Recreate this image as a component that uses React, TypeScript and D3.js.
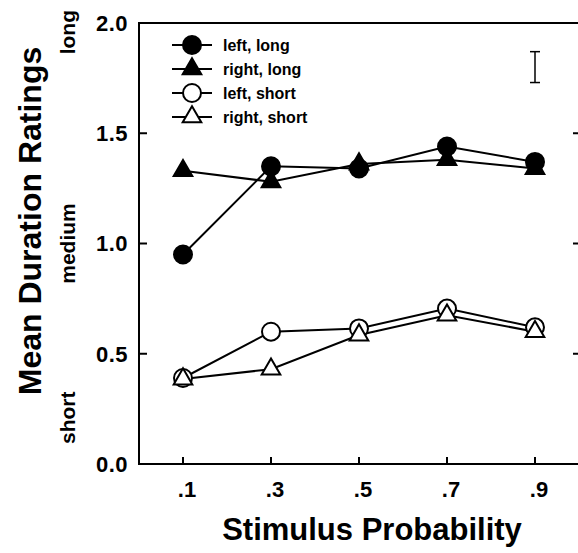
import React from 'react';
import * as d3 from 'd3';

// stimulus probabilities on the x axis
const probs = [0.1, 0.3, 0.5, 0.7, 0.9];
const probLabels = ['.1', '.3', '.5', '.7', '.9'];

// mean duration ratings
const leftLong = [0.95, 1.35, 1.34, 1.44, 1.37];
const rightLong = [1.33, 1.28, 1.36, 1.38, 1.34];
const leftShort = [0.39, 0.6, 0.615, 0.705, 0.62];
const rightShort = [0.385, 0.43, 0.585, 0.675, 0.6];

const yTicks = [0, 0.5, 1.0, 1.5, 2.0];
const yTickLabels = ['0.0', '0.5', '1.0', '1.5', '2.0'];

// representative error bar (top right)
const errorBar = { x: 0.9, lo: 1.73, hi: 1.87 };

const series = [
  { name: 'left, long', values: leftLong, shape: 'circle', filled: true },
  { name: 'right, long', values: rightLong, shape: 'triangle', filled: true },
  { name: 'left, short', values: leftShort, shape: 'circle', filled: false },
  { name: 'right, short', values: rightShort, shape: 'triangle', filled: false },
];

const W = 578;
const H = 553;
const FONT = 'Liberation Sans, Arial, Helvetica, sans-serif';

const x = d3.scaleLinear().domain([0, 1]).range([139, 579]);
const y = d3.scaleLinear().domain([0, 2]).range([464, 23]);

const triPath = d3.symbol().type(d3.symbolTriangle).size(150)();

function Marker({ shape, filled, cx, cy }: { shape: string; filled: boolean; cx: number; cy: number }) {
  const fill = filled ? '#000' : '#fff';
  if (shape === 'circle') {
    return <circle cx={cx} cy={cy} r={9} fill={fill} stroke="#000" strokeWidth={2} />;
  }
  return (
    <path d={triPath || ''} transform={`translate(${cx},${cy})`} fill={fill} stroke="#000" strokeWidth={2} />
  );
}

export default function App() {
  const line = d3
    .line<number>()
    .x((_, i) => x(probs[i]))
    .y((d) => y(d));

  return (
    <svg width={W} height={H} style={{ position: 'absolute', left: 0, top: 0, background: '#fff' }} fontFamily={FONT}>
      {/* frame */}
      <path d={`M${x(1)},${y(2)}H${x(0)}V${y(0)}H${x(1)}`} fill="none" stroke="#000" strokeWidth={2} />

      {/* left ticks, inward */}
      {yTicks.slice(1, 4).map((t) => (
        <line key={'l' + t} x1={x(0)} x2={x(0) + 8} y1={y(t)} y2={y(t)} stroke="#000" strokeWidth={2} />
      ))}
      {/* right ticks */}
      {yTicks.slice(1, 4).map((t) => (
        <line key={'r' + t} x1={573} x2={579} y1={y(t)} y2={y(t)} stroke="#000" strokeWidth={2} />
      ))}
      {/* bottom ticks */}
      {probs.map((p) => (
        <line key={'b' + p} x1={x(p)} x2={x(p)} y1={y(0)} y2={y(0) - 7} stroke="#000" strokeWidth={2} />
      ))}

      {/* y tick labels */}
      {yTicks.map((t, i) => (
        <text key={'yl' + t} x={128} y={y(t)} dy="0.36em" textAnchor="end" fontSize={22} fontWeight="bold" letterSpacing={0.5}>
          {yTickLabels[i]}
        </text>
      ))}
      {/* x tick labels */}
      {probs.map((p, i) => (
        <text key={'xl' + p} x={x(p) + 4} y={497} textAnchor="middle" fontSize={22} fontWeight="bold">
          {probLabels[i]}
        </text>
      ))}

      {/* axis titles */}
      <text x={372} y={540} textAnchor="middle" fontSize={31} fontWeight="bold">
        Stimulus Probability
      </text>
      <text transform={`translate(41,${221}) rotate(-90)`} textAnchor="middle" fontSize={32} fontWeight="bold">
        Mean Duration Ratings
      </text>

      {/* verbal anchors */}
      <text transform={`translate(75,10) rotate(-90)`} textAnchor="end" fontSize={21} fontWeight="bold">
        long
      </text>
      <text transform={`translate(75,${y(1)}) rotate(-90)`} textAnchor="middle" fontSize={21} fontWeight="bold">
        medium
      </text>
      <text transform={`translate(75,${y(0) - 20}) rotate(-90)`} textAnchor="start" fontSize={21} fontWeight="bold">
        short
      </text>

      {/* error bar */}
      <g stroke="#000" strokeWidth={1.5}>
        <line x1={x(errorBar.x)} x2={x(errorBar.x)} y1={y(errorBar.lo)} y2={y(errorBar.hi)} />
        <line x1={x(errorBar.x) - 5} x2={x(errorBar.x) + 5} y1={y(errorBar.lo)} y2={y(errorBar.lo)} />
        <line x1={x(errorBar.x) - 5} x2={x(errorBar.x) + 5} y1={y(errorBar.hi)} y2={y(errorBar.hi)} />
      </g>

      {/* series lines */}
      {series.map((s) => (
        <path key={'ln' + s.name} d={line(s.values) || ''} fill="none" stroke="#000" strokeWidth={2} />
      ))}
      {/* markers */}
      {series.map((s) => (
        <g key={'mk' + s.name}>
          {s.values.map((v, i) => (
            <Marker key={i} shape={s.shape} filled={s.filled} cx={x(probs[i])} cy={y(v)} />
          ))}
        </g>
      ))}

      {/* legend */}
      {series.map((s, i) => {
        const ly = 45 + i * 24;
        return (
          <g key={'lg' + s.name}>
            <line x1={172} x2={212} y1={ly} y2={ly} stroke="#000" strokeWidth={2} />
            <Marker shape={s.shape} filled={s.filled} cx={192} cy={ly} />
            <text x={223} y={ly} dy="0.36em" fontSize={16} fontWeight="bold">
              {s.name}
            </text>
          </g>
        );
      })}
    </svg>
  );
}
